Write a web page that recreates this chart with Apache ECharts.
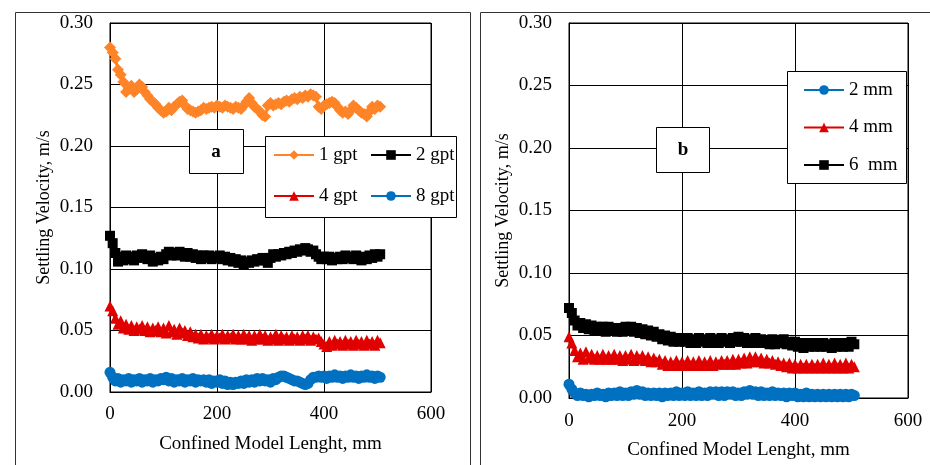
<!DOCTYPE html>
<html>
<head>
<meta charset="utf-8">
<script src="https://cdn.jsdelivr.net/npm/echarts@6/dist/echarts.min.js"></script>
<style>
html,body{margin:0;padding:0;background:#fff;}
#chart{width:930px;height:465px;}
</style>
</head>
<body>
<div id="chart"></div>
<script>
// Shared x positions (mm)
var xMm = [0,5,10,15,20,25,30,35,40,45,50,55,60,65,70,75,80,85,90,95,
100,105,110,115,120,125,130,135,140,145,150,155,160,165,170,175,180,185,190,195,
200,205,210,215,220,225,230,235,240,245,250,255,260,265,270,275,280,285,290,295,
300,305,310,315,320,325,330,335,340,345,350,355,360,365,370,375,380,385,390,395,
400,405,410,415,420,425,430,435,440,445,450,455,460,465,470,475,480,485,490,495,
500,505];

// Panel a
var oneGpt = [0.280,0.276,0.271,0.262,0.258,0.252,0.244,0.247,0.249,0.244,
0.246,0.250,0.248,0.244,0.241,0.238,0.236,0.234,0.231,0.229,
0.227,0.228,0.231,0.229,0.232,0.234,0.236,0.237,0.233,0.230,
0.229,0.228,0.227,0.228,0.229,0.231,0.230,0.231,0.232,0.231,
0.233,0.232,0.231,0.233,0.232,0.231,0.230,0.232,0.231,0.230,
0.233,0.236,0.239,0.235,0.232,0.230,0.228,0.225,0.224,0.233,
0.235,0.233,0.234,0.235,0.234,0.236,0.237,0.236,0.238,0.239,
0.238,0.240,0.239,0.241,0.240,0.242,0.241,0.240,0.232,0.230,
0.233,0.234,0.235,0.236,0.235,0.232,0.229,0.227,0.228,0.226,
0.229,0.233,0.231,0.229,0.227,0.226,0.224,0.228,0.232,0.230,
0.233,0.232];
var twoGpt = [0.127,0.121,0.113,0.106,0.110,0.107,0.111,0.108,0.110,0.107,
0.111,0.109,0.112,0.110,0.108,0.111,0.106,0.109,0.107,0.110,
0.108,0.112,0.114,0.111,0.113,0.111,0.114,0.112,0.110,0.113,
0.110,0.112,0.109,0.111,0.108,0.111,0.109,0.111,0.108,0.110,
0.109,0.111,0.108,0.110,0.107,0.109,0.106,0.108,0.105,0.107,
0.104,0.106,0.105,0.107,0.106,0.108,0.107,0.109,0.107,0.105,
0.109,0.112,0.110,0.112,0.111,0.113,0.112,0.114,0.113,0.115,
0.114,0.116,0.115,0.117,0.116,0.114,0.115,0.112,0.110,0.108,
0.110,0.108,0.110,0.107,0.109,0.108,0.110,0.108,0.111,0.109,
0.110,0.108,0.111,0.109,0.107,0.110,0.108,0.111,0.109,0.112,
0.110,0.112];
var fourGpt = [0.070,0.066,0.060,0.055,0.058,0.052,0.055,0.051,0.054,0.050,
0.053,0.051,0.054,0.050,0.053,0.049,0.052,0.050,0.053,0.049,
0.052,0.048,0.054,0.049,0.051,0.047,0.052,0.048,0.050,0.046,
0.049,0.045,0.047,0.044,0.047,0.043,0.046,0.044,0.047,0.043,
0.046,0.044,0.047,0.043,0.046,0.044,0.047,0.043,0.046,0.043,
0.047,0.043,0.046,0.042,0.046,0.043,0.047,0.043,0.046,0.042,
0.045,0.043,0.047,0.042,0.046,0.043,0.045,0.042,0.046,0.043,
0.045,0.042,0.046,0.043,0.046,0.042,0.045,0.043,0.044,0.041,
0.039,0.037,0.041,0.038,0.042,0.039,0.041,0.038,0.042,0.039,
0.041,0.038,0.042,0.039,0.041,0.038,0.042,0.039,0.041,0.038,
0.042,0.040];
var eightGpt = [0.016,0.012,0.009,0.011,0.008,0.010,0.009,0.011,0.008,0.010,
0.009,0.011,0.008,0.010,0.009,0.011,0.008,0.010,0.009,0.011,
0.010,0.012,0.009,0.011,0.008,0.010,0.009,0.011,0.008,0.010,
0.009,0.011,0.008,0.010,0.009,0.010,0.008,0.010,0.007,0.009,
0.008,0.010,0.007,0.009,0.006,0.008,0.006,0.008,0.007,0.009,
0.007,0.010,0.008,0.010,0.008,0.011,0.009,0.011,0.009,0.010,
0.008,0.011,0.010,0.012,0.013,0.013,0.012,0.011,0.010,0.009,
0.009,0.008,0.007,0.006,0.007,0.010,0.012,0.012,0.013,0.012,
0.013,0.011,0.013,0.012,0.014,0.012,0.013,0.011,0.013,0.012,
0.014,0.012,0.013,0.011,0.013,0.012,0.014,0.012,0.013,0.011,
0.013,0.012];

// Panel b
var twoMm = [0.011,0.007,0.004,0.002,0.004,0.002,0.003,0.001,0.003,0.002,
0.004,0.002,0.003,0.001,0.004,0.002,0.004,0.002,0.005,0.002,
0.004,0.002,0.005,0.003,0.006,0.003,0.005,0.002,0.004,0.002,
0.004,0.002,0.004,0.001,0.004,0.002,0.004,0.002,0.005,0.002,
0.004,0.002,0.005,0.002,0.004,0.002,0.005,0.002,0.004,0.002,
0.005,0.003,0.005,0.002,0.005,0.002,0.005,0.003,0.005,0.002,
0.004,0.002,0.005,0.003,0.006,0.003,0.005,0.002,0.005,0.002,
0.004,0.002,0.005,0.002,0.004,0.002,0.004,0.001,0.004,0.002,
0.004,0.001,0.003,0.001,0.004,0.001,0.003,0.001,0.003,0.001,
0.003,0.001,0.003,0.001,0.003,0.001,0.003,0.001,0.003,0.001,
0.003,0.002];
var fourMm = [0.049,0.044,0.038,0.033,0.036,0.031,0.037,0.032,0.035,0.031,
0.034,0.031,0.035,0.031,0.034,0.031,0.035,0.031,0.034,0.030,
0.034,0.031,0.035,0.030,0.034,0.031,0.034,0.030,0.033,0.029,
0.032,0.029,0.031,0.027,0.030,0.026,0.029,0.026,0.030,0.026,
0.029,0.026,0.030,0.026,0.029,0.026,0.030,0.026,0.029,0.026,
0.030,0.026,0.029,0.027,0.030,0.027,0.030,0.027,0.031,0.027,
0.031,0.028,0.032,0.028,0.033,0.029,0.033,0.029,0.032,0.028,
0.031,0.028,0.030,0.027,0.029,0.026,0.028,0.025,0.028,0.024,
0.027,0.024,0.027,0.024,0.027,0.024,0.027,0.024,0.027,0.024,
0.028,0.024,0.027,0.024,0.028,0.024,0.027,0.024,0.028,0.024,
0.027,0.025];
var sixMm = [0.072,0.068,0.062,0.058,0.060,0.056,0.059,0.055,0.058,0.054,
0.057,0.054,0.057,0.053,0.057,0.054,0.056,0.053,0.056,0.053,
0.057,0.054,0.057,0.053,0.056,0.052,0.055,0.051,0.054,0.050,
0.053,0.049,0.051,0.047,0.050,0.046,0.049,0.045,0.048,0.045,
0.048,0.045,0.048,0.044,0.047,0.044,0.048,0.045,0.047,0.044,
0.048,0.044,0.047,0.044,0.048,0.045,0.047,0.044,0.048,0.045,
0.049,0.045,0.048,0.044,0.047,0.044,0.048,0.044,0.047,0.044,
0.046,0.043,0.047,0.043,0.046,0.044,0.047,0.043,0.045,0.042,
0.045,0.041,0.044,0.040,0.044,0.041,0.044,0.041,0.044,0.041,
0.044,0.041,0.043,0.040,0.044,0.041,0.044,0.041,0.044,0.041,
0.045,0.043];

var yTicks = [0, 0.05, 0.10, 0.15, 0.20, 0.25, 0.30];
var xTicks = [0, 200, 400, 600];

var FONT = "'Liberation Serif','Times New Roman',serif";

function pairs(ys) {
  var n = Math.min(xMm.length, ys.length), out = [];
  for (var i = 0; i < n; i++) out.push([xMm[i], ys[i]]);
  return out;
}

function mkSeries(name, ys, color, symbol, size, idx) {
  return {
    name: name, type: 'line', xAxisIndex: idx, yAxisIndex: idx,
    data: pairs(ys), symbol: symbol, symbolSize: size, showSymbol: true, showAllSymbol: true,
    lineStyle: {color: color, width: 3}, itemStyle: {color: color},
    z: 2, animation: false
  };
}

function xAx(idx) {
  return {
    gridIndex: idx, type: 'value', min: xTicks[0], max: xTicks[xTicks.length-1], interval: 200,
    name: 'Confined Model Lenght, mm', nameLocation: 'middle', nameGap: 43,
    nameTextStyle: {fontFamily: FONT, fontSize: 19, color: '#000'},
    axisLine: {show: true, lineStyle: {color: '#000', width: 1}},
    axisTick: {show: false},
    axisLabel: {fontFamily: FONT, fontSize: 19, color: '#000', margin: idx === 0 ? 13 : 14},
    splitLine: {show: true, lineStyle: {color: '#000', width: 1}}
  };
}
function yAx(idx) {
  return {
    gridIndex: idx, type: 'value', min: yTicks[0], max: yTicks[yTicks.length-1], interval: 0.05,
    name: 'Settling Velocity, m/s', nameLocation: 'middle', nameGap: 57,
    nameTextStyle: {fontFamily: FONT, fontSize: 18, color: '#000'},
    axisLine: {show: true, lineStyle: {color: '#000', width: 1}},
    axisTick: {show: false},
    axisLabel: {fontFamily: FONT, fontSize: 19, color: '#000', margin: 17,
      formatter: function (v) { return v.toFixed(2); }},
    splitLine: {show: true, lineStyle: {color: '#000', width: 1}}
  };
}

function legendAt(left, top, gap, names) {
  return {
    data: names, orient: 'vertical', left: left, top: top, padding: 0,
    itemGap: gap, itemWidth: 40, itemHeight: 12, selectedMode: false,
    textStyle: {fontFamily: FONT, fontSize: 19, color: '#000', lineHeight: 20}
  };
}

var chart = echarts.init(document.getElementById('chart'), null, {renderer: 'canvas'});
chart.setOption({
  animation: false,
  backgroundColor: '#fff',
  grid: [
    {left: 110, top: 23, width: 321, height: 369, show: true, borderColor: '#000', borderWidth: 1, backgroundColor: 'transparent'},
    {left: 569, top: 23, width: 339, height: 380, show: true, borderColor: '#000', borderWidth: 1, backgroundColor: 'transparent'}
  ],
  xAxis: [xAx(0), xAx(1)],
  yAxis: [yAx(0), yAx(1)],
  legend: [
    legendAt(273, 145, 21, ['1 gpt', '4 gpt']),
    legendAt(370, 145, 21, ['2 gpt', '8 gpt']),
    legendAt(803, 80, 17.5, ['2 mm', '4 mm', '6  mm'])
  ],
  graphic: [
    {type: 'rect', shape: {x: 15.5, y: 12.5, width: 455, height: 470}, style: {fill: 'none', stroke: '#333', lineWidth: 1}, z: 1},
    {type: 'rect', shape: {x: 480.5, y: 12.5, width: 470, height: 470}, style: {fill: 'none', stroke: '#333', lineWidth: 1}, z: 1},
    {type: 'rect', shape: {x: 265.5, y: 136.5, width: 191, height: 81}, style: {fill: '#fff', stroke: '#000', lineWidth: 1}, z: 3},
    {type: 'rect', shape: {x: 787.5, y: 71.5, width: 119, height: 112}, style: {fill: '#fff', stroke: '#000', lineWidth: 1}, z: 3},
    {type: 'rect', shape: {x: 189.5, y: 129.5, width: 54, height: 44}, style: {fill: '#fff', stroke: '#000', lineWidth: 1}, z: 3},
    {type: 'text', x: 216, y: 152, style: {text: 'a', fontFamily: FONT, fontSize: 19, fontWeight: 'bold', fill: '#000', textAlign: 'center', textVerticalAlign: 'middle'}, z: 5},
    {type: 'rect', shape: {x: 656.5, y: 127.5, width: 53, height: 45}, style: {fill: '#fff', stroke: '#000', lineWidth: 1}, z: 3},
    {type: 'text', x: 683, y: 150, style: {text: 'b', fontFamily: FONT, fontSize: 19, fontWeight: 'bold', fill: '#000', textAlign: 'center', textVerticalAlign: 'middle'}, z: 5}
  ],
  series: [
    mkSeries('1 gpt', oneGpt, '#FF8427', 'diamond', 12, 0),
    mkSeries('2 gpt', twoGpt, '#000000', 'rect', 10, 0),
    mkSeries('4 gpt', fourGpt, '#E00000', 'triangle', 11, 0),
    mkSeries('8 gpt', eightGpt, '#0070C0', 'circle', 11, 0),
    mkSeries('2 mm', twoMm, '#0070C0', 'circle', 11, 1),
    mkSeries('4 mm', fourMm, '#E00000', 'triangle', 11, 1),
    mkSeries('6  mm', sixMm, '#000000', 'rect', 10, 1)
  ]
});
</script>
</body>
</html>
